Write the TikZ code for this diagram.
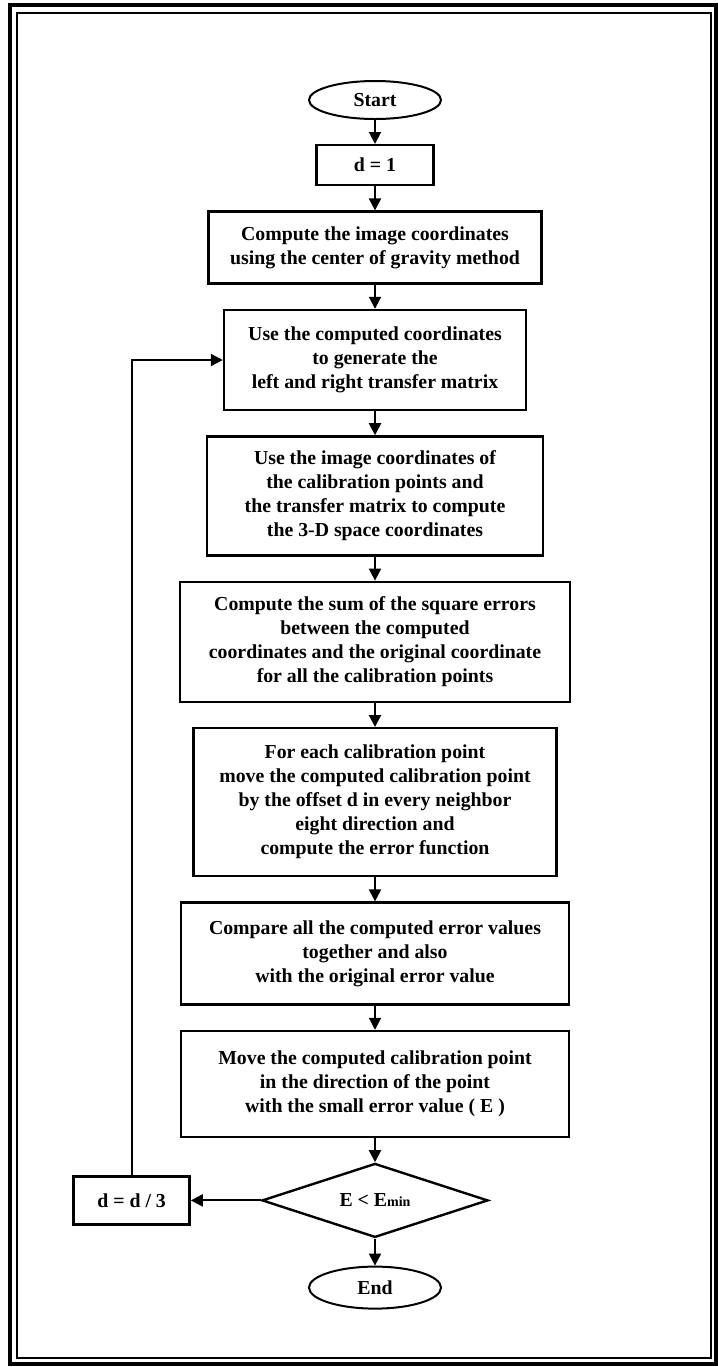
\documentclass[tikz,border=0pt]{standalone}
\usepackage{fontspec}
\setmainfont{Liberation Serif}
\usetikzlibrary{arrows.meta,positioning,shapes.geometric}

\begin{document}
\begin{tikzpicture}[font=\fontsize{9.9}{12}\selectfont\bfseries,node distance=12pt,
      box/.style={draw,line width=1.2pt,align=center,inner sep=2pt},
      term/.style={draw,ellipse,line width=1pt,minimum width=66pt,minimum height=19pt,inner sep=1pt},
      cond/.style={draw,diamond,line width=1.2pt,aspect=3,minimum width=113pt,minimum height=37pt,inner sep=1pt},
      flow/.style={-{Triangle[length=6pt,width=6pt]},line width=1pt}]
    \useasboundingbox (0,0) rectangle (359pt,-683.5pt);
    % double frame
    \draw[line width=2.2pt] (5pt,-2.5pt) rectangle (358pt,-682pt);
    \draw[line width=0.7pt] (8.5pt,-6.5pt) rectangle (355.5pt,-679pt);
    \node[term] (start) at (187.5pt,-50pt) {Start};
    \node[box,minimum width=58.5pt,minimum height=20pt,below=of start] (init) {d = 1};
    \node[box,minimum width=166.5pt,minimum height=36pt,below=of init] (cog) {Compute the image coordinates\\ using the center of gravity method};
    \node[box,minimum width=151pt,minimum height=50pt,below=of cog] (tmat) {Use the computed coordinates\\ to generate the\\ left and right transfer matrix};
    \node[box,minimum width=168pt,minimum height=59.5pt,below=of tmat] (xyz) {Use the image coordinates of\\ the calibration points and\\ the transfer matrix to compute\\ the 3-D space coordinates};
    \node[box,minimum width=195pt,minimum height=60pt,below=of xyz] (sse) {Compute the sum of the square errors\\ between the computed\\ coordinates and the original coordinate\\ for all the calibration points};
    \node[box,minimum width=181.5pt,minimum height=74pt,below=of sse] (shift) {For each calibration point\\ move the computed calibration point\\ by the offset d in every neighbor\\ eight direction and\\ compute the error function};
    \node[box,minimum width=194pt,minimum height=51pt,below=of shift] (cmp) {Compare all the computed error values\\ together and also\\ with the original error value};
    \node[box,minimum width=194pt,minimum height=53pt,below=of cmp] (mv) {Move the computed calibration point\\ in the direction of the point\\ with the small error value ( E )};
    \node[cond,below=of mv] (test) {E < E{\fontsize{7}{8}\selectfont min}};
    \node[box,minimum width=58pt,minimum height=24pt,left=35pt of test] (upd) {d = d / 3};
    \node[term,minimum height=21pt,below=13.5pt of test] (stop) {End};
    \foreach \a/\b in {start/init,init/cog,cog/tmat,tmat/xyz,xyz/sse,sse/shift,shift/cmp,cmp/mv,mv/test,test/stop,test/upd}
      \draw[flow] (\a) -- (\b);
    \draw[flow] (upd.north) |- (tmat.west);
  \end{tikzpicture}
\end{document}
